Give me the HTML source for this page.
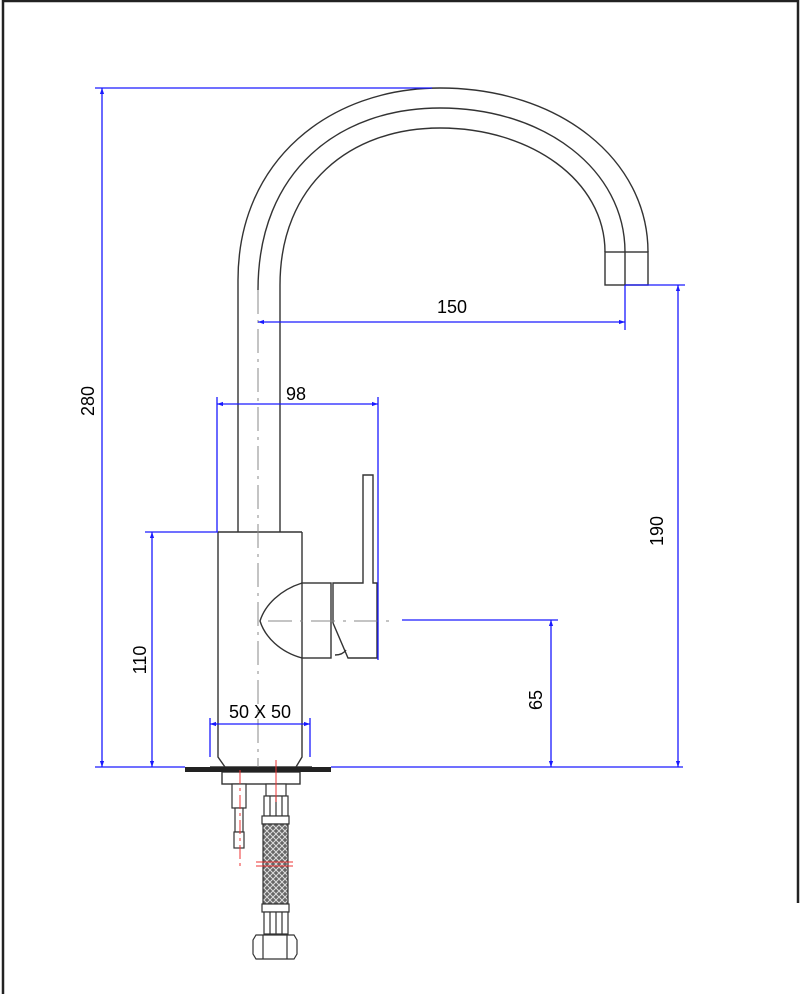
<!DOCTYPE html>
<html><head><meta charset="utf-8"><style>
html,body{margin:0;padding:0;background:#fff;}
svg{display:block;}
text{font-family:"Liberation Sans",sans-serif;font-size:18px;fill:#000;}
</style></head><body>
<svg width="800" height="994" viewBox="0 0 800 994" xmlns="http://www.w3.org/2000/svg">
<defs>
<marker id="a" viewBox="0 0 10 10" refX="10" refY="5" markerWidth="10" markerHeight="6" orient="auto-start-reverse" markerUnits="userSpaceOnUse"><path d="M0,1.5 L10,5 L0,8.5z" fill="#1a1aff"/></marker>
<pattern id="braid" width="6" height="6" patternUnits="userSpaceOnUse"><rect width="6" height="6" fill="#666"/><path d="M0,0 L6,6 M6,0 L0,6" stroke="#ddd" stroke-width="1"/></pattern>
</defs>
<path d="M3,994 L3,1 L798,1 L798,903" fill="none" stroke="#222" stroke-width="2.5"/>

<g fill="none" stroke="#333" stroke-width="1.4">
<path d="M238,532 L238,280 C238,160 330,88 440,88 C560,88 648,160 648,252"/>
<path d="M280,532 L280,285 C280,185 350,128 440,128 C530,128 605,180 605,252"/>
<path d="M258,290 C258,170 340,108 440,108 C545,108 625,170 625,252"/>
<rect x="605" y="252" width="43" height="33"/>
<line x1="625" y1="252" x2="625" y2="285"/>
<path d="M218,532 L218,757 L225,767 M302,532 L218,532 M302,532 L302,583 M302,658 L302,757 L296,767"/>
<path d="M302,583 C280,590 265,605 260,621 C265,637 280,652 302,658"/>
<rect x="302" y="583" width="29" height="75"/>
<path d="M333,623 L333,583 L363,583 L363,475 L373,475 L373,583 L377,583 L377,658 L348,658 L333,623"/>
<path d="M335,655 C340,655 344,653 346,650"/>
<line x1="210" y1="767" x2="312" y2="767"/>
<rect x="222" y="772" width="78" height="12"/>
</g>
<rect x="185" y="767" width="146" height="5" fill="#222"/>
<line x1="258" y1="290" x2="258" y2="767" stroke="#888" stroke-width="1" stroke-dasharray="24,6,3,6"/>
<line x1="268" y1="621" x2="395" y2="621" stroke="#888" stroke-width="1" stroke-dasharray="24,8,3,8"/>

<g fill="#fff" stroke="#333" stroke-width="1.2">
<rect x="232" y="784" width="14" height="24"/>
<rect x="235" y="808" width="8" height="24"/>
<rect x="234" y="832" width="10" height="16"/>
<rect x="266" y="784" width="20" height="12"/>
<rect x="264" y="796" width="24" height="20"/>
<line x1="270" y1="796" x2="270" y2="816"/><line x1="276" y1="796" x2="276" y2="816"/><line x1="282" y1="796" x2="282" y2="816"/>
<rect x="262" y="816" width="27" height="8"/>
<rect x="263" y="824" width="25" height="80" fill="url(#braid)"/>
<rect x="262" y="904" width="27" height="8"/>
<rect x="264" y="912" width="24" height="22"/>
<line x1="270" y1="912" x2="270" y2="934"/><line x1="276" y1="912" x2="276" y2="934"/><line x1="282" y1="912" x2="282" y2="934"/>
<path d="M256,935 L294,935 L297,940 L297,954 L294,959 L256,959 L253,954 L253,940z"/>
<line x1="263" y1="935" x2="263" y2="959"/><line x1="287" y1="935" x2="287" y2="959"/>
</g>
<g stroke="#e33" stroke-width="1">
<line x1="240" y1="770" x2="240" y2="868" stroke-dasharray="14,4,3,4"/>
<line x1="276" y1="760" x2="276" y2="802"/>
<line x1="256" y1="862" x2="293" y2="862"/><line x1="256" y1="866" x2="293" y2="866"/>
</g>

<g stroke="#1a1aff" stroke-width="1.3" fill="none">
<line x1="95" y1="767" x2="185" y2="767"/><line x1="331" y1="767" x2="683" y2="767"/>
<line x1="95" y1="88" x2="432" y2="88"/>
<line x1="102" y1="88" x2="102" y2="767" marker-start="url(#a)" marker-end="url(#a)"/>
<line x1="145" y1="532" x2="218" y2="532"/>
<line x1="152" y1="532" x2="152" y2="767" marker-start="url(#a)" marker-end="url(#a)"/>
<line x1="258" y1="322" x2="625" y2="322" marker-start="url(#a)" marker-end="url(#a)"/>
<line x1="625" y1="285" x2="625" y2="330"/>
<line x1="217" y1="397" x2="217" y2="532"/><line x1="378" y1="397" x2="378" y2="660"/>
<line x1="217" y1="404" x2="378" y2="404" marker-start="url(#a)" marker-end="url(#a)"/>
<line x1="625" y1="285" x2="685" y2="285"/>
<line x1="678" y1="285" x2="678" y2="767" marker-start="url(#a)" marker-end="url(#a)"/>
<line x1="402" y1="620" x2="558" y2="620"/>
<line x1="551" y1="620" x2="551" y2="767" marker-start="url(#a)" marker-end="url(#a)"/>
<line x1="210" y1="718" x2="210" y2="757"/><line x1="310" y1="718" x2="310" y2="757"/>
<line x1="210" y1="724" x2="310" y2="724" marker-start="url(#a)" marker-end="url(#a)"/>
</g>
<text x="452" y="313" text-anchor="middle">150</text>
<text x="296" y="400" text-anchor="middle">98</text>
<text x="260" y="718" text-anchor="middle">50 X 50</text>
<text transform="translate(94,401) rotate(-90)" text-anchor="middle">280</text>
<text transform="translate(146,660) rotate(-90)" text-anchor="middle">110</text>
<text transform="translate(663,531) rotate(-90)" text-anchor="middle">190</text>
<text transform="translate(542,700) rotate(-90)" text-anchor="middle">65</text>
</svg>
</body></html>
